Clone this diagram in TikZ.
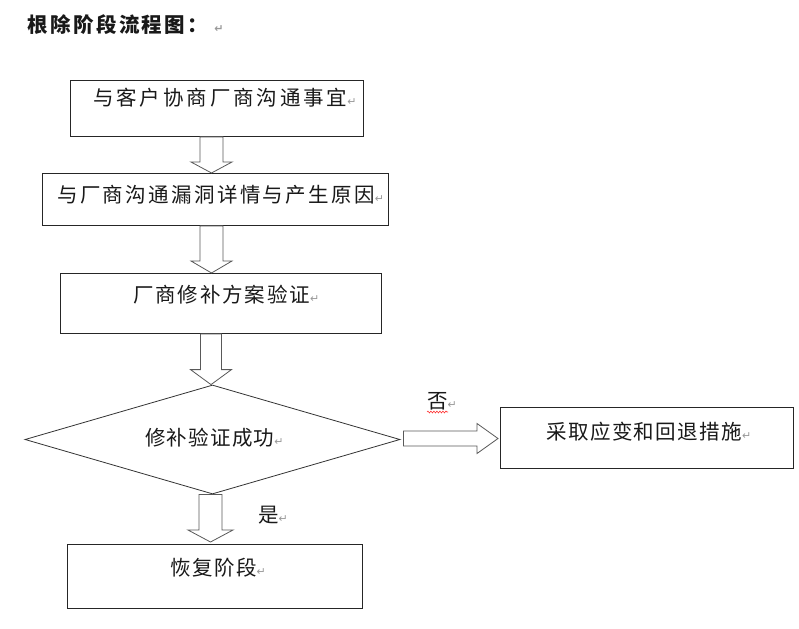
\documentclass[tikz,border=0pt]{standalone}
\usepackage{fontspec}
\usepackage{xcolor}
\newfontfamily\cjk{Noto Sans CJK SC}
\newfontfamily\dejavu{DejaVu Sans}
\usetikzlibrary{calc,shapes.geometric,decorations.pathmorphing}
\newcommand{\parmark}{{\dejavu\fontsize{11}{11}\selectfont\color{black!40}↵}}
\newcommand{\cjksz}[1]{\cjk\fontsize{20.5}{24}\selectfont\addfontfeature{LetterSpace=#1}}
\tikzset{
  box/.style={draw=black!85, line width=0.9pt, fill=white, inner sep=0pt, anchor=north west},
  txt/.style={font=\cjksz{7}, inner sep=0pt, anchor=west, text=black!90},
  arr/.style={draw=black!65, line width=0.8pt, fill=white, line join=miter},
  blockdown/.style n args={3}{to path={let \p1=(\tikztostart), \p2=(\tikztotarget) in
    (\x1-#1,\y1) -- (\x1+#1,\y1) -- (\x1+#1,\y2+#3) -- (\x1+#2,\y2+#3) -- (\x1,\y2)
    -- (\x1-#2,\y2+#3) -- (\x1-#1,\y2+#3) -- cycle}},
  blockright/.style n args={3}{to path={let \p1=(\tikztostart), \p2=(\tikztotarget) in
    (\x1,\y1+#1) -- (\x2-#3,\y1+#1) -- (\x2-#3,\y1+#2) -- (\x2,\y1) -- (\x2-#3,\y1-#2)
    -- (\x2-#3,\y1-#1) -- (\x1,\y1-#1) -- cycle}},
}
\begin{document}
\begin{tikzpicture}[x=1pt,y=1pt]
\useasboundingbox (0,0) rectangle (799,-628);
\fill[white] (0,0) rectangle (799,-628);

% title
\node[txt, font=\cjksz{12}\bfseries] (title) at (27,-25) {根除阶段流程图：\hspace{6pt}\parmark};

% boxes
\node[box, minimum width=293, minimum height=56] (b1) at (70,-80) {};
\node[txt, font=\cjksz{14}] (t1) at (93,-98) {与客户协商厂商沟通事宜\parmark};

\node[box, minimum width=346, minimum height=52] (b2) at (42,-173) {};
\node[txt, font=\cjksz{11.5}] (t2) at (57,-195) {与厂商沟通漏洞详情与产生原因\parmark};

\node[box, minimum width=321, minimum height=60] (b3) at (60,-273) {};
\node[txt, font=\cjksz{9}] (t3) at (133,-295) {厂商修补方案验证\parmark};

\node[draw=black!80, line width=0.8pt, diamond, inner sep=0pt, minimum width=375, minimum height=109] (d) at (212.5,-439.5) {};
\node[txt, font=\cjksz{6}] (t4) at (145,-438) {修补验证成功\parmark};

\node[box, minimum width=293, minimum height=61] (b4) at (500,-407) {};
\node[txt, font=\cjksz{7}] (t5) at (546,-432) {采取应变和回退措施\parmark};

\node[box, minimum width=295, minimum height=64] (b5) at (67,-544) {};
\node[txt, font=\cjksz{7}] (t6) at (170,-568) {恢复阶段\parmark};

% labels
\node[txt] (no) at (427,-401) {否\parmark};
\draw[red!80, line width=0.6pt, decorate, decoration={snake, amplitude=0.9pt, segment length=3pt}]
  ($(no.west)+(0,-11)$) -- ($(no.west)+(21,-11)$);
\node[txt] (yes) at (258,-515) {是\parmark};

% block arrows
\draw[arr] (b1.south -| 211.5,0) to[blockdown={11.5pt}{20.5pt}{11pt}] (b2.north -| 211.5,0);
\draw[arr] (b2.south -| 211.5,0) to[blockdown={11.5pt}{20.5pt}{12pt}] (b3.north -| 211.5,0);
\draw[arr] (b3.south -| 211,0) to[blockdown={10.5pt}{20.5pt}{15pt}] (d.north -| 211,0);
\draw[arr] (d.south -| 210.5,0) to[blockdown={11.5pt}{22.5pt}{12pt}] ($(b5.north -| 210.5,0)+(0,2)$);
\draw[arr] ($(d.east)+(3,1)$) to[blockright={7.5pt}{15pt}{21pt}] ($(b4.west |- d.east)+(-2,1)$);
\end{tikzpicture}
\end{document}
